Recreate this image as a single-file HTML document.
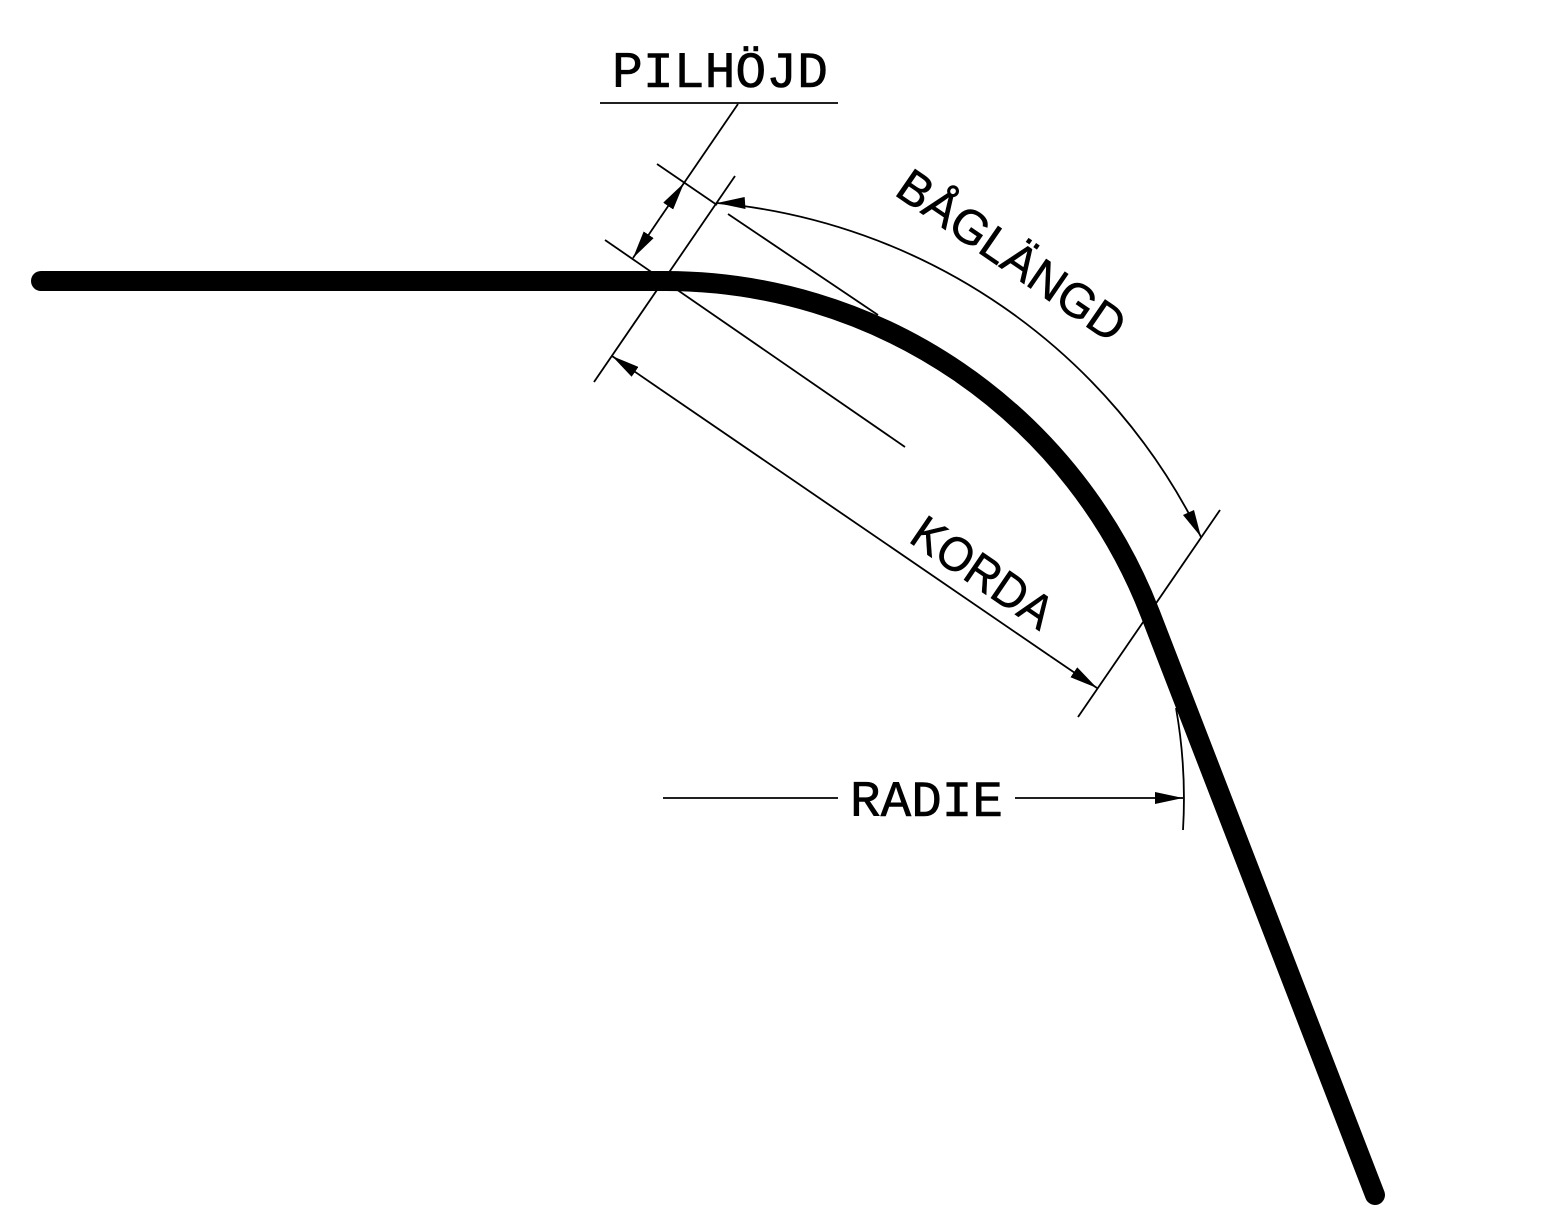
<!DOCTYPE html>
<html><head><meta charset="utf-8"><style>html,body{margin:0;padding:0;background:#fff}svg{display:block}</style></head>
<body>
<svg width="1563" height="1218" viewBox="0 0 1563 1218" xmlns="http://www.w3.org/2000/svg">
<defs>
<marker id="a" viewBox="0 0 28 12" refX="28" refY="6" markerWidth="28" markerHeight="12" markerUnits="userSpaceOnUse" orient="auto">
<path d="M0,0 L28,6 L0,12 Z" fill="#000"/></marker>
</defs>
<g fill="none" stroke="#000">
<path d="M41,281 L665,281 A520,520 0 0 1 1150,613 L1375,1195" stroke-width="20" stroke-linecap="round" stroke-linejoin="round"/>
<g stroke-width="1.8">
<line x1="735" y1="176" x2="594" y2="382"/>
<line x1="1220" y1="510" x2="1078" y2="717"/>
<line x1="605" y1="240" x2="905" y2="447"/>
<line x1="657" y1="164" x2="717" y2="205"/>
<line x1="728" y1="214" x2="878" y2="315"/>
<line x1="660" y1="389" x2="612" y2="356" marker-end="url(#a)"/>
<line x1="1050" y1="656" x2="1097" y2="688" marker-end="url(#a)"/>
<line x1="660" y1="389" x2="1050" y2="656"/>
<line x1="600" y1="103" x2="838" y2="103"/>
<line x1="738" y1="104" x2="684" y2="183"/>
<line x1="660" y1="218" x2="684" y2="183" marker-end="url(#a)"/>
<line x1="660" y1="218" x2="633" y2="258" marker-end="url(#a)"/>
<path d="M717,203 A600,600 0 0 1 1201,537"/>
<line x1="663" y1="798" x2="838" y2="798"/>
<line x1="1015" y1="798" x2="1183" y2="798" marker-end="url(#a)"/>
<path d="M1176,708 A520,520 0 0 1 1183,830"/>
</g>
</g>
<polygon points="717,203 745,199 745,211" fill="#000" transform="rotate(-4 717 203)"/>
<polygon points="1201,537 1183,515 1194,510" fill="#000"/>
<g font-family="'Liberation Mono', monospace" font-size="51" fill="#000" stroke="#000" stroke-width="0.6">
<text x="612" y="87" textLength="216" lengthAdjust="spacingAndGlyphs">PILHÖJD</text>
<text x="850" y="816" textLength="153" lengthAdjust="spacingAndGlyphs">RADIE</text>
</g>
<g font-family="'Liberation Sans', sans-serif" font-size="48" fill="#000" stroke="#000" stroke-width="0.6" text-anchor="middle">
<text transform="translate(1012,255) rotate(34.5)" y="17" textLength="265" lengthAdjust="spacingAndGlyphs">BÅGLÄNGD</text>
<text transform="translate(983,572) rotate(34.3)" y="17" textLength="160" lengthAdjust="spacingAndGlyphs">KORDA</text>
</g>
</svg>
</body></html>
